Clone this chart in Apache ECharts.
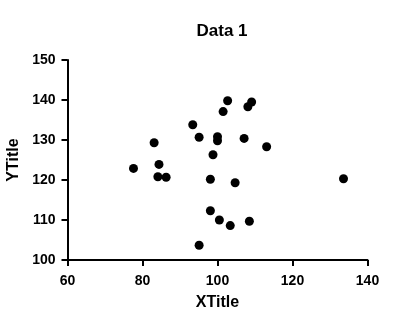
<!DOCTYPE html>
<html lang="en">
<head>
  <meta charset="UTF-8">
  <title>Data 1</title>
  <script src="https://cdn.jsdelivr.net/npm/echarts@6/dist/echarts.min.js"></script>
  <style>
    html, body { margin: 0; padding: 0; background: #fff; }
    #chart { width: 395px; height: 325px; }
  </style>
</head>
<body>
  <div id="chart"></div>
  <script type="text/javascript">
    // scatter values
    var xValues = [77.6, 83.1, 84.4, 84.1, 86.3, 93.4, 95.1, 95.1, 98.1, 98.1, 98.8, 100.0,
                   100.0, 100.5, 101.5, 102.7, 103.4, 104.7, 107.1, 108.1, 109.1, 108.5, 113.1, 133.6];
    var yValues = [122.9, 129.3, 123.9, 120.8, 120.7, 133.8, 130.7, 103.7, 120.2, 112.3, 126.3, 130.8,
                   129.8, 110.0, 137.1, 139.8, 108.6, 119.3, 130.4, 138.3, 139.5, 109.7, 128.3, 120.3];
    var xTicks = { min: 60, max: 140, step: 20 };
    var yTicks = { min: 100, max: 150, step: 10 };

    var points = [];
    for (var i = 0; i < xValues.length; i++) {
      points.push([xValues[i], yValues[i]]);
    }

    var font = 'Liberation Sans, Arial, sans-serif';
    var axisLine = { show: true, lineStyle: { color: '#000', width: 2 } };
    var axisTick = { show: true, inside: false, length: 6, lineStyle: { color: '#000', width: 2 } };

    var myChart = echarts.init(document.getElementById('chart'));
    var option = {
      animation: false,
      title: {
        text: 'Data 1',
        left: 217,
        textAlign: 'center',
        top: 18,
        textStyle: { fontFamily: font, fontWeight: 'bold', fontSize: 17, color: '#000' }
      },
      grid: { left: 67.5, right: 27.5, top: 60, bottom: 65, containLabel: false, outerBoundsMode: 'none' },
      xAxis: {
        type: 'value',
        min: xTicks.min,
        max: xTicks.max,
        interval: xTicks.step,
        name: 'XTitle',
        nameLocation: 'middle',
        nameGap: 35,
        nameTextStyle: { fontFamily: font, fontWeight: 'bold', fontSize: 16, color: '#000' },
        axisLine: axisLine,
        axisTick: axisTick,
        splitLine: { show: false },
        axisLabel: { margin: 14, fontFamily: font, fontWeight: 'bold', fontSize: 14, color: '#000' }
      },
      yAxis: {
        type: 'value',
        min: yTicks.min,
        max: yTicks.max,
        interval: yTicks.step,
        name: 'YTitle',
        nameLocation: 'middle',
        nameGap: 41,
        nameTextStyle: { fontFamily: font, fontWeight: 'bold', fontSize: 16, color: '#000' },
        axisLine: axisLine,
        axisTick: axisTick,
        splitLine: { show: false },
        axisLabel: { margin: 12, fontFamily: font, fontWeight: 'bold', fontSize: 14, color: '#000' }
      },
      series: [
        {
          type: 'scatter',
          data: points,
          symbol: 'circle',
          symbolSize: 9,
          itemStyle: { color: '#000', opacity: 1 }
        }
      ]
    };
    option && myChart.setOption(option);
  </script>
</body>
</html>
